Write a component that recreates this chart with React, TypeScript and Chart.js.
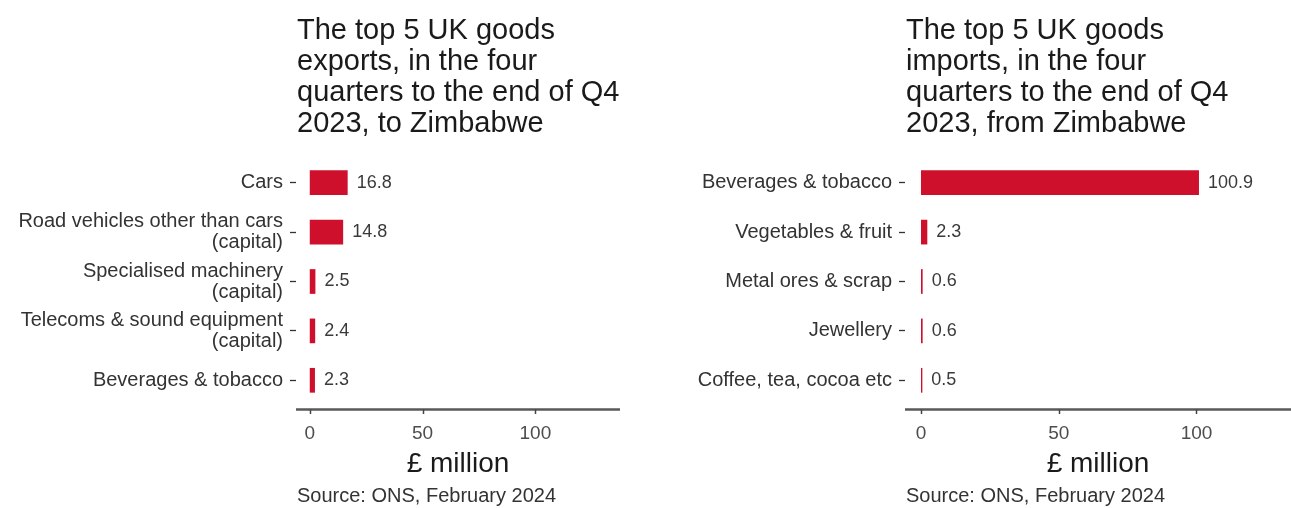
import React, { useEffect, useRef } from "react";
import { Chart, registerables } from "chart.js";

Chart.register(...registerables);

const exportCategories: string[][] = [
  ["Cars"],
  ["Road vehicles other than cars", "(capital)"],
  ["Specialised machinery", "(capital)"],
  ["Telecoms & sound equipment", "(capital)"],
  ["Beverages & tobacco"],
];
const exportValues = [16.8, 14.8, 2.5, 2.4, 2.3];

const importCategories: string[] = [
  "Beverages & tobacco",
  "Vegetables & fruit",
  "Metal ores & scrap",
  "Jewellery",
  "Coffee, tea, cocoa etc",
];
const importValues = [100.9, 2.3, 0.6, 0.6, 0.5];

const xTickValues = [0, 50, 100];

const exportTitle = [
  "The top 5 UK goods",
  "exports, in the four",
  "quarters to the end of Q4",
  "2023, to Zimbabwe",
];
const importTitle = [
  "The top 5 UK goods",
  "imports, in the four",
  "quarters to the end of Q4",
  "2023, from Zimbabwe",
];
const axisTitle = "£ million";
const sourceText = "Source: ONS, February 2024";

const FONT = "'Liberation Sans', Arial, Helvetica, sans-serif";
const RED = "#cf102d";
const AXIS = "#595959";
const TEXT = "#333333";

type PanelProps = {
  categories: (string | string[])[];
  values: number[];
  title: string[];
  left: number;
  width: number;
  yWidth: number;
  xMin: number;
  xMax: number;
};

function Panel({ categories, values, title, left, width, yWidth, xMin, xMax }: PanelProps) {
  const ref = useRef<HTMLCanvasElement | null>(null);

  useEffect(() => {
    if (!ref.current) return;
    const textPlugin = {
      id: "panelText",
      afterDraw(chart: any) {
        const ctx = chart.ctx as CanvasRenderingContext2D;
        const area = chart.chartArea;
        const xs = chart.scales.x;
        ctx.save();
        // x axis line and tick marks
        const axisY = area.bottom + 4.5;
        ctx.strokeStyle = AXIS;
        ctx.lineWidth = 2.6;
        ctx.beginPath();
        ctx.moveTo(area.left, axisY);
        ctx.lineTo(area.right, axisY);
        ctx.stroke();
        ctx.lineWidth = 1.5;
        ctx.strokeStyle = "#444444";
        xTickValues.forEach((v) => {
          const px = Math.round(xs.getPixelForValue(v)) + 0.5;
          ctx.beginPath();
          ctx.moveTo(px, axisY);
          ctx.lineTo(px, axisY + 4.5);
          ctx.stroke();
        });
        // titles
        ctx.textAlign = "left";
        ctx.textBaseline = "alphabetic";
        ctx.fillStyle = "#1a1a1a";
        ctx.font = `29px ${FONT}`;
        title.forEach((line, i) => ctx.fillText(line, area.left + 1, 39 + i * 31));
        ctx.font = `20px ${FONT}`;
        ctx.fillStyle = TEXT;
        ctx.fillText(sourceText, area.left + 1, 502);
        // value labels
        ctx.textBaseline = "middle";
        ctx.font = `18px ${FONT}`;
        ctx.fillStyle = "#3a3a3a";
        const meta = chart.getDatasetMeta(0);
        meta.data.forEach((bar: any, i: number) => {
          ctx.fillText(values[i].toFixed(1), bar.x + 9, bar.y);
        });
        ctx.restore();
      },
    };

    const chart = new Chart(ref.current, {
      type: "bar",
      data: {
        labels: categories as any,
        datasets: [
          {
            data: values,
            backgroundColor: RED,
            borderWidth: 0,
            barPercentage: 0.5,
            categoryPercentage: 1,
          },
        ],
      },
      options: {
        indexAxis: "y",
        responsive: false,
        animation: false,
        devicePixelRatio: 1,
        layout: { padding: { top: 158, bottom: 24, left: 0, right: 0 } },
        plugins: {
          legend: { display: false },
          tooltip: { enabled: false },
          title: { display: false },
        },
        scales: {
          x: {
            type: "linear",
            min: xMin,
            max: xMax,
            afterBuildTicks: (s: any) => {
              s.ticks = xTickValues.map((v) => ({ value: v }));
            },
            afterFit: (s: any) => {
              s.height = 79;
            },
            border: { display: false },
            grid: { display: false },
            ticks: {
              font: { family: FONT, size: 19 },
              color: "#4d4d4d",
              padding: 9,
              maxRotation: 0,
            },
            title: {
              display: true,
              text: axisTitle,
              font: { family: FONT, size: 28 },
              color: "#1a1a1a",
              padding: { top: 0, bottom: 3 },
            },
          },
          y: {
            type: "category",
            afterFit: (s: any) => {
              s.width = yWidth;
            },
            border: { display: false },
            grid: {
              display: true,
              offset: false,
              drawOnChartArea: false,
              drawTicks: true,
              tickLength: 6,
              tickColor: "#333333",
              tickWidth: 1.3,
            },
            ticks: {
              font: { family: FONT, size: 20, lineHeight: 1.05 },
              color: TEXT,
              padding: 7,
              autoSkip: false,
            },
          },
        },
      },
      plugins: [textPlugin],
    } as any);
    return () => chart.destroy();
  }, []);

  return (
    <canvas
      ref={ref}
      width={width}
      height={508}
      style={{ position: "absolute", left, top: 0, width, height: 508 }}
    />
  );
}

export default function App() {
  return (
    <div
      style={{
        position: "absolute",
        left: 0,
        top: 0,
        width: 1291,
        height: 508,
        background: "#ffffff",
        overflow: "hidden",
      }}
    >
      <Panel
        categories={exportCategories}
        values={exportValues}
        title={exportTitle}
        left={0}
        width={620}
        yWidth={296}
        xMin={-6.1}
        xMax={137.5}
      />
      <Panel
        categories={importCategories}
        values={importValues}
        title={importTitle}
        left={645}
        width={646}
        yWidth={260}
        xMin={-5.8}
        xMax={134.3}
      />
    </div>
  );
}
